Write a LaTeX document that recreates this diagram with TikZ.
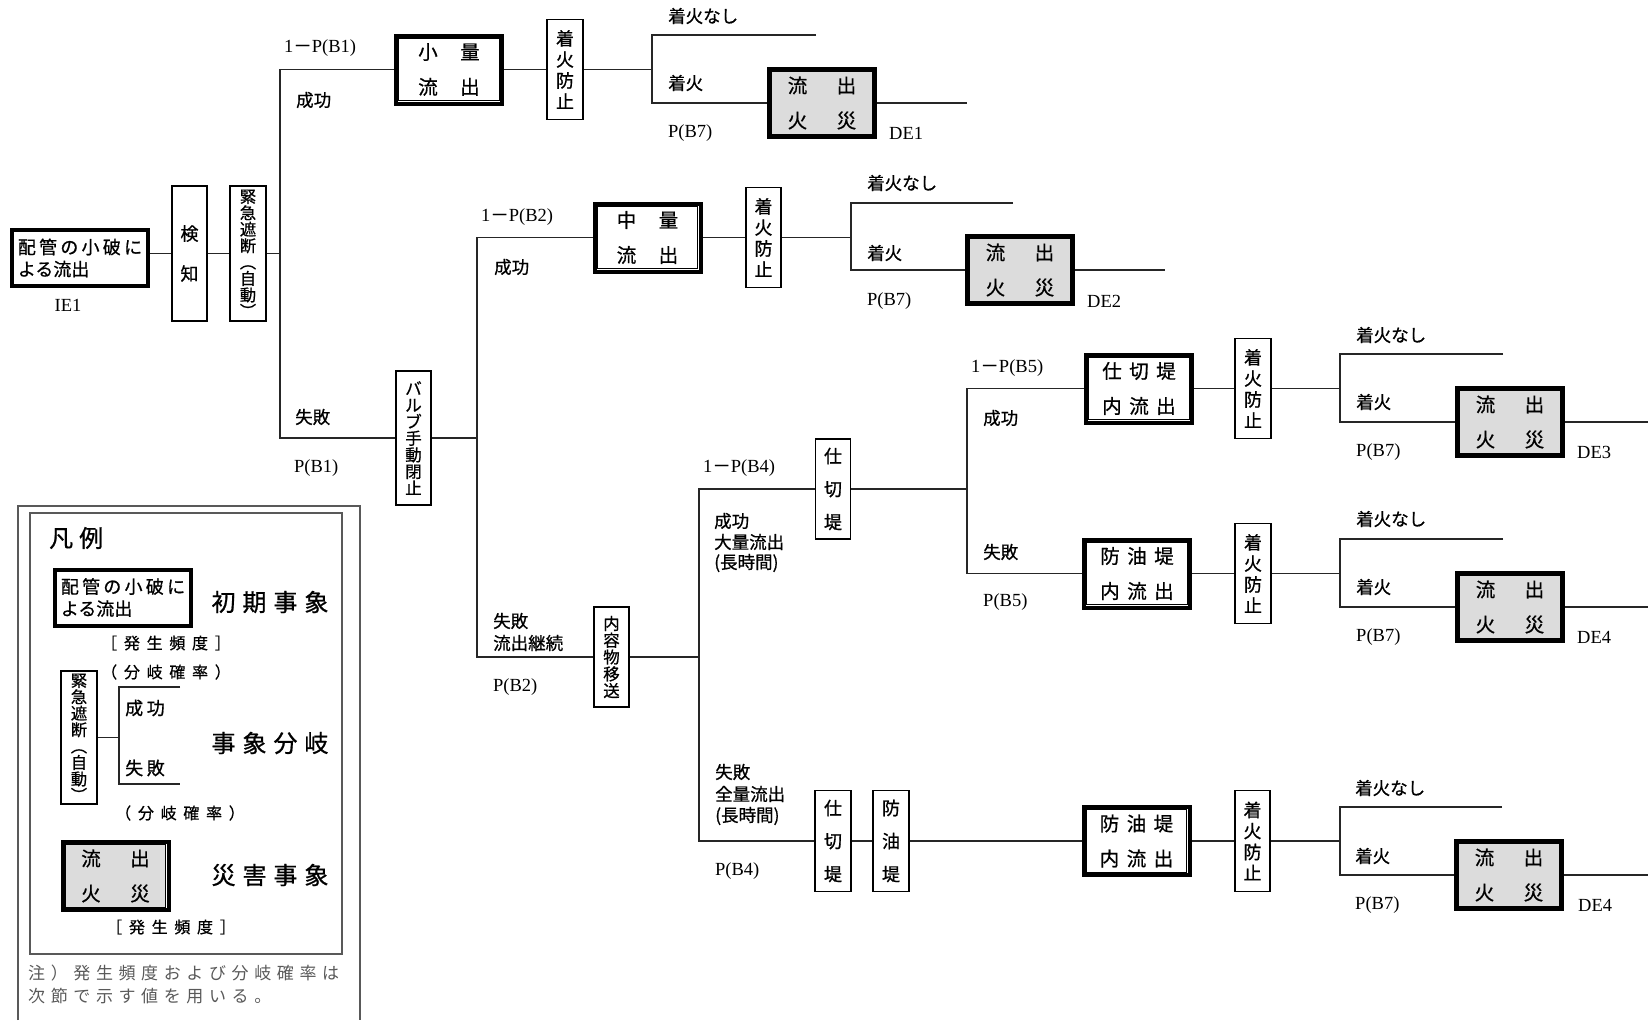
\documentclass[tikz,border=0pt]{standalone}
\usepackage{fontspec}
\newfontfamily\jp[FakeBold=0.8]{Noto Sans CJK JP}
\newfontfamily\jpIE[LetterSpace=18,FakeBold=0.8]{Noto Sans CJK JP}
\newfontfamily\jpT[LetterSpace=25,FakeBold=0.8]{Noto Sans CJK JP}
\newfontfamily\jpL[LetterSpace=29,FakeBold=0.8]{Noto Sans CJK JP}
\newfontfamily\jpS[LetterSpace=42,FakeBold=0.6]{Noto Sans CJK JP}
\newfontfamily\jpM[LetterSpace=20,FakeBold=0.8]{Noto Sans CJK JP}
\newfontfamily\jpN[LetterSpace=33]{Noto Sans CJK JP}
\newfontfamily\lat{Liberation Serif}
\definecolor{defill}{HTML}{DCDCDC}
\newcommand\EvBox[5]{%
  \node[evb] (#1) at (#2,#3) {};
  \draw[line width=1.3pt, fill=#4] ([shift={(4.8,4.8)}]#1.north west) rectangle ([shift={(-4.8,-4.8)}]#1.south east);
  \node[evt] (#1t) at (#1.center) {#5};}
\newcommand\DEtext{流\hspace{29.5pt}出\\火\hspace{29.5pt}災}
\newcommand\KKtext{緊\\急\\遮\\断\\︵\\自\\動\\︶}
\begin{document}
\begin{tikzpicture}[x=1pt,y=-1pt,
  ln/.style={line width=1.3pt, draw=black!85},
  vb/.style={draw, line width=1.2pt, fill=white, inner sep=0pt, minimum width=35pt, align=center,
     execute at begin node={\lineskiplimit=-40pt\lineskip=0pt}},
  evb/.style={draw, line width=4pt, fill=white, inner sep=0pt, minimum width=106pt, minimum height=68pt},
  evt/.style={inner sep=0pt, align=center, font=\jp\fontsize{19.5}{35}\selectfont,
     execute at begin node={\lineskiplimit=-40pt\lineskip=0pt}},
  ieb/.style={draw, line width=4pt, fill=white, inner sep=0pt, minimum width=136pt, minimum height=56pt, align=left,
     font=\jp\fontsize{18}{22}\selectfont,
     execute at begin node={\lineskiplimit=-40pt\lineskip=0pt}},
  lab/.style={anchor=west, inner sep=0pt, font=\jp\fontsize{17.5}{21.5}\selectfont, align=left,
     execute at begin node={\lineskiplimit=-40pt\lineskip=0pt}},
  latl/.style={anchor=west, inner sep=0pt, font=\lat\fontsize{18.5}{21}\selectfont},
  big/.style={inner sep=0pt, font=\jpL\fontsize{24}{28}\selectfont},
  small/.style={inner sep=0pt, font=\jpS\fontsize{16}{18}\selectfont},
  note/.style={anchor=west, inner sep=0pt, font=\jpN\fontsize{17}{22}\selectfont, text=black!65},
  legbox/.style={line width=1.1pt, draw=black!65},
  kk/.style={vb, minimum width=36pt, font=\jp\fontsize{16.3}{16.4}\selectfont}
]
\useasboundingbox (0,0) rectangle (1648,1020);

% ---------------- initial event and first headings
\node[ieb] (ie1) at (80,258) {{\jpIE 配管の小破に}\\よる流出};
\node[latl, anchor=center] (ie1l) at (68,305) {IE1};
\node[vb, minimum height=135pt, font=\jp\fontsize{18}{40}\selectfont] (kenchi) at (189.5,253.5) {検\\知};
\node[kk, minimum height=135pt] (kinkyu) at (248,253.5) {\KKtext};

\draw[ln] (ie1.east |- kenchi.west) -- (kenchi.west);
\draw[ln] (kenchi.east) -- (kinkyu.west);

% trunk 1
\coordinate (t1t) at (280,69.5);
\coordinate (t1b) at (280,438);
\draw[ln] (kinkyu.east) -- (kinkyu.east -| t1t);

% small leak row
\EvBox{shoryo}{449}{69.5}{white}{小\hspace{22.5pt}量\\流\hspace{22.5pt}出}
\node[vb, minimum width=36pt, minimum height=100pt, font=\jp\fontsize{18}{21}\selectfont] (chaku1) at (565,69.5) {着\\火\\防\\止};
\node[vb, minimum height=134pt, font=\jp\fontsize{16.5}{16.6}\selectfont] (valve) at (413.5,438) {バ\\ル\\ブ\\手\\動\\閉\\止};
\draw[ln] (shoryo.west) -- (shoryo.west -| t1t) -- (t1b) -- (valve.west);
\draw[ln] (shoryo.east) -- (chaku1.west);

\coordinate (f1t) at (652,35);
\coordinate (f1e) at (816,35);
\EvBox{de1}{822}{103}{defill}{\DEtext}
\coordinate (d1e) at (967,103);
\draw[ln] (chaku1.east) -- (chaku1.east -| f1t);
\draw[ln] (f1e) -- (f1t) -- (f1t |- de1.west) -- (de1.west);
\draw[ln] (de1.east) -- (d1e);

\node[latl] (pb1s) at (284,48) {1{\jp －}P(B1)};
\node[lab] (s1) at (296,100) {成功};
\node[lab] (f1) at (295,417) {失敗};
\node[latl] (pb1) at (294,468) {P(B1)};
\node[lab] (n1a) at (668,16) {着火なし};
\node[lab] (n1b) at (668,83) {着火};
\node[latl] (p71) at (668,133) {P(B7)};
\node[latl] (de1l) at (889,133) {DE1};

% ---------------- medium leak row
\coordinate (t2t) at (477,237.5);
\coordinate (t2b) at (477,657);
\draw[ln] (valve.east) -- (valve.east -| t2t);
\EvBox{churyo}{647.5}{237.5}{white}{中\hspace{22.5pt}量\\流\hspace{22.5pt}出}
\node[vb, minimum height=100pt, font=\jp\fontsize{18}{21}\selectfont] (chaku2) at (763.5,237.5) {着\\火\\防\\止};
\node[vb, minimum height=100pt, font=\jp\fontsize{16.5}{16.8}\selectfont] (naiyo) at (611.5,657) {内\\容\\物\\移\\送};
\draw[ln] (churyo.west) -- (churyo.west -| t2t) -- (t2b) -- (naiyo.west);
\draw[ln] (churyo.east) -- (chaku2.west);
\coordinate (f2t) at (851,203);
\coordinate (f2e) at (1013,203);
\EvBox{de2}{1020}{270}{defill}{\DEtext}
\coordinate (d2e) at (1165,270);
\draw[ln] (chaku2.east) -- (chaku2.east -| f2t);
\draw[ln] (f2e) -- (f2t) -- (f2t |- de2.west) -- (de2.west);
\draw[ln] (de2.east) -- (d2e);

\node[latl] (pb2s) at (481,217) {1{\jp －}P(B2)};
\node[lab] (s2) at (494,267) {成功};
\node[lab] (f2a) at (493,621) {失敗};
\node[lab] (f2b) at (493,643) {流出継続};
\node[latl] (pb2) at (493,687) {P(B2)};
\node[lab] (n2a) at (867,183) {着火なし};
\node[lab] (n2b) at (867,253) {着火};
\node[latl] (p72) at (867,301) {P(B7)};
\node[latl] (de2l) at (1087,301) {DE2};

% ---------------- trunk 3 (B4)
\coordinate (t3t) at (699,489);
\coordinate (t3b) at (699,841);
\draw[ln] (naiyo.east) -- (naiyo.east -| t3t);
\node[vb, minimum height=100pt, font=\jp\fontsize{18}{33}\selectfont] (shikiri1) at (833,489) {仕\\切\\堤};
\node[vb, minimum width=36pt, minimum height=101pt, font=\jp\fontsize{18}{33}\selectfont] (shikiri2) at (833,841) {仕\\切\\堤};
\node[vb, minimum width=36pt, minimum height=101pt, font=\jp\fontsize{18}{33}\selectfont] (boyu2) at (891,841) {防\\油\\堤};
\draw[ln] (shikiri1.west) -- (shikiri1.west -| t3t) -- (t3b) -- (shikiri2.west);
\draw[ln] (shikiri2.east) -- (boyu2.west);

\node[latl] (pb4s) at (703,468) {1{\jp －}P(B4)};
\node[lab] (s4a) at (714,521) {成功};
\node[lab] (s4b) at (714,542) {大量流出};
\node[lab] (s4c) at (714,563) {(長時間)};
\node[lab] (f4a) at (715,772) {失敗};
\node[lab] (f4b) at (715,794) {全量流出};
\node[lab] (f4c) at (715,816) {(長時間)};
\node[latl] (pb4) at (715,871) {P(B4)};

% ---------------- trunk 4 (B5)
\coordinate (t4t) at (967,388.5);
\coordinate (t4b) at (967,573.5);
\draw[ln] (shikiri1.east) -- (shikiri1.east -| t4t);
\EvBox{snai}{1139}{388.5}{white}{仕\hspace{7.5pt}切\hspace{7.5pt}堤\\内\hspace{7.5pt}流\hspace{7.5pt}出}
\EvBox{bnai}{1137}{573.5}{white}{防\hspace{7.5pt}油\hspace{7.5pt}堤\\内\hspace{7.5pt}流\hspace{7.5pt}出}
\draw[ln] (snai.west) -- (snai.west -| t4t) -- (t4b) -- (bnai.west);

\node[latl] (pb5s) at (971,368) {1{\jp －}P(B5)};
\node[lab] (s5) at (983,418) {成功};
\node[lab] (f5) at (983,552) {失敗};
\node[latl] (pb5) at (983,602) {P(B5)};

% DE3 row
\node[vb, minimum width=36pt, minimum height=100pt, font=\jp\fontsize{18}{21}\selectfont] (chaku3) at (1253,388.5) {着\\火\\防\\止};
\draw[ln] (snai.east) -- (chaku3.west);
\coordinate (f3t) at (1340,354);
\coordinate (f3e) at (1503,354);
\EvBox{de3}{1510}{422}{defill}{\DEtext}
\coordinate (d3e) at (1648,422);
\draw[ln] (chaku3.east) -- (chaku3.east -| f3t);
\draw[ln] (f3e) -- (f3t) -- (f3t |- de3.west) -- (de3.west);
\draw[ln] (de3.east) -- (d3e);
\node[lab] (n3a) at (1356,335) {着火なし};
\node[lab] (n3b) at (1356,402) {着火};
\node[latl] (p73) at (1356,452) {P(B7)};
\node[latl] (de3l) at (1577,452) {DE3};

% DE4 row
\node[vb, minimum width=36pt, minimum height=100pt, font=\jp\fontsize{18}{21}\selectfont] (chaku4) at (1253,573.5) {着\\火\\防\\止};
\draw[ln] (bnai.east) -- (chaku4.west);
\coordinate (f4t) at (1340,539);
\coordinate (f4e) at (1503,539);
\EvBox{de4}{1510}{607}{defill}{\DEtext}
\coordinate (d4e) at (1648,607);
\draw[ln] (chaku4.east) -- (chaku4.east -| f4t);
\draw[ln] (f4e) -- (f4t) -- (f4t |- de4.west) -- (de4.west);
\draw[ln] (de4.east) -- (d4e);
\node[lab] (n4a) at (1356,519) {着火なし};
\node[lab] (n4b) at (1356,587) {着火};
\node[latl] (p74) at (1356,637) {P(B7)};
\node[latl] (de4l) at (1577,637) {DE4};

% bottom row
\EvBox{bnai2}{1136.5}{841}{white}{防\hspace{7.5pt}油\hspace{7.5pt}堤\\内\hspace{7.5pt}流\hspace{7.5pt}出}
\draw[ln] (boyu2.east) -- (bnai2.west);
\node[vb, minimum height=101pt, font=\jp\fontsize{18}{21}\selectfont] (chaku5) at (1252.5,841) {着\\火\\防\\止};
\draw[ln] (bnai2.east) -- (chaku5.west);
\coordinate (f5t) at (1340,807);
\coordinate (f5e) at (1502,807);
\EvBox{de5}{1509}{875}{defill}{\DEtext}
\coordinate (d5e) at (1648,875);
\draw[ln] (chaku5.east) -- (chaku5.east -| f5t);
\draw[ln] (f5e) -- (f5t) -- (f5t |- de5.west) -- (de5.west);
\draw[ln] (de5.east) -- (d5e);
\node[lab] (n5a) at (1355,788) {着火なし};
\node[lab] (n5b) at (1355,856) {着火};
\node[latl] (p75) at (1355,905) {P(B7)};
\node[latl] (de5l) at (1578,905) {DE4};

% ---------------- legend
\draw[legbox] (18,1020) -- (18,506) -- (360,506) -- (360,1020);
\draw[legbox] (30,513) rectangle (342,954);
\node[anchor=west, inner sep=0pt, font=\jpT\fontsize{24}{28}\selectfont] (lgt) at (49,538) {凡例};
\node[ieb] (lie) at (123,597.5) {{\jpIE 配管の小破に}\\よる流出};
\node[big] (lg1) at (270,602) {初期事象};
\node[small] (lf1) at (166,643) {［発生頻度］};
\node[small] (lp1) at (166,672) {（分岐確率）};
\node[kk, minimum height=133pt] (lkin) at (79,737.5) {\KKtext};
\coordinate (lbt) at (119,687);
\coordinate (lbb) at (119,784);
\coordinate (lbte) at (180,687);
\coordinate (lbbe) at (180,784);
\draw[ln, line width=1.1pt] (lkin.east) -- (lkin.east -| lbt);
\draw[ln, line width=1.1pt] (lbte) -- (lbt) -- (lbb) -- (lbbe);
\node[anchor=west, inner sep=0pt, font=\jpM\fontsize{18}{20}\selectfont] (lsu) at (125,708) {成功};
\node[anchor=west, inner sep=0pt, font=\jpM\fontsize{18}{20}\selectfont] (lfa) at (125,768) {失敗};
\node[big] (lg2) at (270,743) {事象分岐};
\node[small] (lp2) at (180,813) {（分岐確率）};
\EvBox{lde}{115.5}{876}{defill}{\DEtext}
\node[big] (lg3) at (270,875) {災害事象};
\node[small] (lf2) at (171,927) {［発生頻度］};
\node[note] (nt1) at (28,973) {注）発生頻度および分岐確率は};
\node[note] (nt2) at (28,996) {次節で示す値を用いる。};
\end{tikzpicture}
\end{document}
